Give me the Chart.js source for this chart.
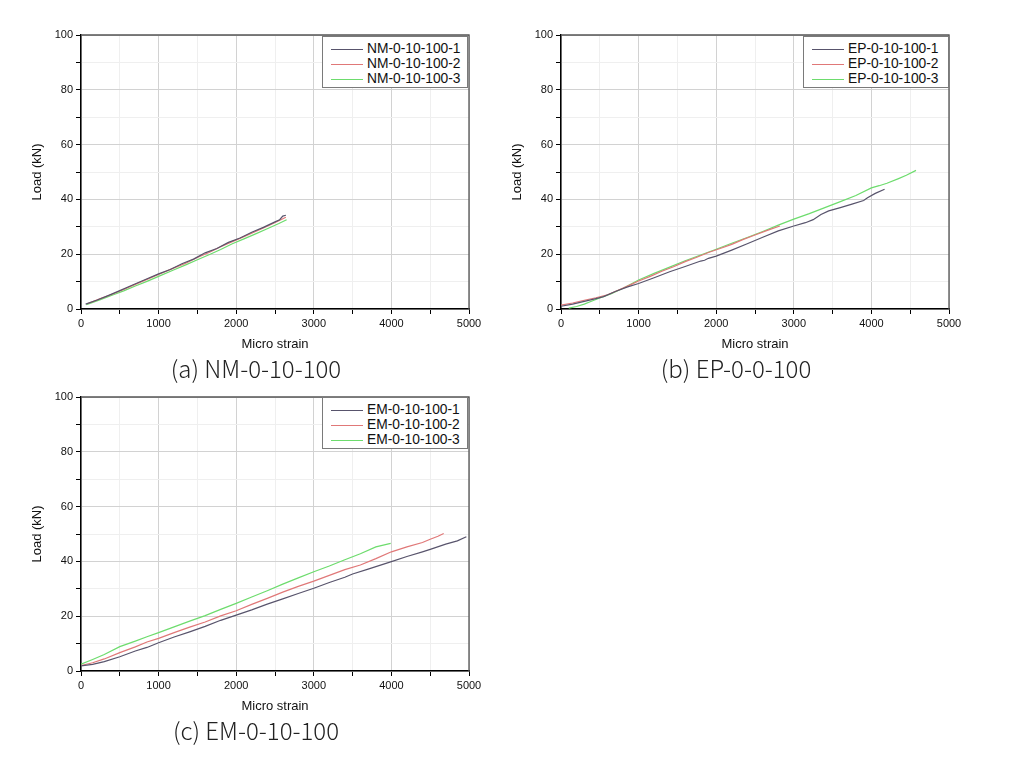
<!DOCTYPE html>
<html>
<head>
<meta charset="utf-8">
<script src="https://cdn.jsdelivr.net/npm/chart.js@4/dist/chart.umd.min.js"></script>
<style>
body{margin:0;background:#fff;width:1009px;height:764px;position:relative;overflow:hidden;font-family:"Liberation Sans",Arial,sans-serif}
canvas{position:absolute}
.cap{position:absolute;font-family:"Noto Sans CJK KR","Noto Sans",sans-serif;font-size:24px;font-weight:300;color:#222;transform:translateX(-50%);white-space:nowrap;line-height:24px}
.leg{position:absolute;box-sizing:border-box;border:1.5px solid #7a7a7a;background:#fff;width:146px;height:52px;padding-top:4px}
.row{height:15px;line-height:15px;font-size:13.8px;color:#111;white-space:nowrap}
.row span{display:inline-block;width:32px;height:0;border-top:1.2px solid;vertical-align:middle;margin:0 4px 0 8px}
</style>
</head>
<body>
<canvas id="ca" width="490" height="352" style="left:0;top:0"></canvas>
<canvas id="cb" width="490" height="352" style="left:480px;top:0"></canvas>
<canvas id="cc" width="490" height="352" style="left:0;top:362px"></canvas>
<div class="cap" style="left:256px;top:356px">(a) NM-0-10-100</div>
<div class="cap" style="left:736px;top:356px">(b) EP-0-0-100</div>
<div class="cap" style="left:256px;top:718px">(c) EM-0-10-100</div>
<div class="leg" id="la" style="left:322px;top:36px"></div>
<div class="leg" id="lb" style="left:803px;top:36px"></div>
<div class="leg" id="lc" style="left:322px;top:397px"></div>
<script>
// NM-0-10-100
var nmStrain1 = [60,200,350,500,650,800,1000,1150,1300,1450,1600,1750,1900,2050,2200,2350,2500,2560,2600,2640];
var nmLoad1   = [1.8,3.2,4.9,6.7,8.6,10.4,12.8,14.4,16.5,18.2,20.5,22.1,24.3,25.9,28.0,29.8,31.8,32.6,33.9,34.2];
var nmStrain2 = [80,250,400,550,700,850,1000,1200,1350,1500,1650,1800,1950,2100,2250,2400,2550,2640];
var nmLoad2   = [1.9,3.8,5.4,7.1,9.0,10.8,12.6,15.0,16.7,18.8,20.6,22.7,24.6,26.4,28.3,30.2,32.2,33.5];
var nmStrain3 = [70,250,400,550,700,850,1000,1200,1350,1500,1650,1800,1950,2100,2250,2400,2550,2650];
var nmLoad3   = [1.6,3.4,5.0,6.6,8.4,10.1,11.9,14.3,16.1,18.0,19.8,21.7,23.8,25.6,27.4,29.3,31.2,32.6];

// EP-0-0-100
var epStrain1 = [0,150,300,450,550,700,850,1000,1200,1400,1600,1800,1850,1900,2000,2200,2400,2600,2800,3000,3150,3250,3350,3450,3600,3750,3900,3950,4050,4170];
var epLoad1   = [1.0,1.8,2.8,3.8,4.5,6.4,8.0,9.3,11.4,13.6,15.5,17.5,17.8,18.5,19.3,21.5,23.8,26.2,28.5,30.3,31.5,32.6,34.5,35.8,37.0,38.3,39.6,40.6,42.2,43.7];
var epStrain2 = [0,150,300,450,600,750,900,1000,1150,1300,1450,1600,1750,1900,2050,2200,2350,2500,2650,2820];
var epLoad2   = [1.4,2.2,3.2,4.1,5.2,7.0,8.9,10.2,11.9,13.8,15.4,17.3,18.9,20.6,22.1,23.6,25.4,27.0,28.6,30.3];
var epStrain3 = [100,200,300,400,500,650,800,1000,1200,1400,1600,1800,2000,2200,2400,2600,2800,3000,3200,3400,3600,3800,4000,4100,4200,4350,4450,4575];
var epLoad3   = [0.3,0.9,1.8,2.9,4.0,5.6,7.6,10.6,13.0,15.3,17.6,19.7,21.8,24.0,26.1,28.3,30.6,32.8,34.8,37.0,39.2,41.4,44.2,45.0,45.9,47.6,48.8,50.6];

// EM-0-10-100
var emStrain1 = [0,150,300,500,700,850,1000,1200,1400,1600,1800,2000,2200,2400,2600,2800,3000,3200,3400,3500,3700,3900,4000,4200,4400,4500,4700,4850,4966];
var emLoad1   = [1.9,2.4,3.4,5.2,7.3,8.6,10.3,12.4,14.3,16.3,18.5,20.4,22.3,24.4,26.3,28.3,30.2,32.3,34.2,35.4,37.2,39.0,39.9,41.8,43.5,44.4,46.3,47.5,49.0];
var emStrain2 = [0,150,300,500,700,850,1000,1200,1400,1600,1800,2000,2200,2400,2600,2800,3000,3200,3400,3600,3800,4000,4200,4400,4500,4600,4674];
var emLoad2   = [2.0,3.0,4.4,6.7,8.8,10.6,11.9,14.0,16.0,17.9,20.1,22.0,24.3,26.5,28.8,30.9,32.8,34.9,37.0,38.7,41.0,43.5,45.3,46.9,48.1,49.2,50.2];
var emStrain3 = [0,150,300,500,700,850,1000,1200,1400,1600,1800,2000,2200,2400,2600,2800,3000,3200,3400,3600,3800,3991];
var emLoad3   = [2.5,4.2,6.0,8.9,10.9,12.5,14.0,16.1,18.2,20.2,22.5,24.7,27.0,29.3,31.7,34.0,36.2,38.3,40.6,42.8,45.3,46.6];

var colors = ['#58546c','#e07878','#6ddc6d'];

function pts(xs, ys){
  var arr = [];
  for (var i = 0; i < xs.length; i++) arr.push({x: xs[i], y: ys[i]});
  return arr;
}

var frame = {
  id: 'frame',
  afterDraw: function(chart){
    var c = chart.ctx, a = chart.chartArea;
    c.save();
    c.strokeStyle = '#555';
    c.lineWidth = 1.3;
    c.beginPath();
    c.moveTo(a.left, a.top);
    c.lineTo(a.right, a.top);
    c.lineTo(a.right, a.bottom);
    c.stroke();
    c.restore();
  }
};

function makeChart(id, legId, names, series){
  var datasets = [];
  for (var i = 0; i < 3; i++) {
    datasets.push({
      label: names[i],
      data: pts(series[i][0], series[i][1]),
      borderColor: colors[i],
      borderWidth: 1.2,
      pointRadius: 0,
      tension: 0,
      fill: false
    });
  }
  var leg = document.getElementById(legId);
  datasets.forEach(function(d){
    var r = document.createElement('div');
    r.className = 'row';
    r.innerHTML = '<span style="border-color:' + d.borderColor + '"></span>' + d.label;
    leg.appendChild(r);
  });
  return new Chart(document.getElementById(id), {
    type: 'line',
    data: {datasets: datasets},
    plugins: [frame],
    options: {
      responsive: false,
      animation: false,
      devicePixelRatio: 1,
      layout: {padding: {top: 35, right: 21, left: 0, bottom: 0}},
      plugins: {legend: {display: false}, tooltip: {enabled: false}},
      scales: {
        x: {
          type: 'linear', min: 0, max: 5000,
          afterFit: function(s){ s.height = 43; },
          border: {color: '#000', width: 1.5},
          grid: {
            color: function(c){ return c.tick && c.tick.value % 1000 === 0 ? '#d2d2d2' : '#efefef'; },
            tickColor: '#000', tickLength: 5
          },
          ticks: {
            stepSize: 500, autoSkip: false, maxRotation: 0, padding: 3,
            color: '#111', font: {family: 'Liberation Sans', size: 11},
            callback: function(v){ return v % 1000 === 0 ? v : ''; }
          },
          title: {display: true, text: 'Micro strain', color: '#111',
            font: {family: 'Liberation Sans', size: 13}, padding: {top: 0, bottom: 0}}
        },
        y: {
          min: 0, max: 100,
          afterFit: function(s){ s.width = 81; },
          border: {color: '#000', width: 1.5},
          grid: {
            color: function(c){ return c.tick && c.tick.value % 20 === 0 ? '#d2d2d2' : '#efefef'; },
            tickColor: '#000', tickLength: 5
          },
          ticks: {
            stepSize: 10, autoSkip: false, padding: 3,
            color: '#111', font: {family: 'Liberation Sans', size: 11},
            callback: function(v){ return v % 20 === 0 ? v : ''; }
          },
          title: {display: true, text: 'Load (kN)', color: '#111',
            font: {family: 'Liberation Sans', size: 13}, padding: {top: 30, bottom: 0}}
        }
      }
    }
  });
}

makeChart('ca', 'la', ['NM-0-10-100-1','NM-0-10-100-2','NM-0-10-100-3'],
  [[nmStrain1, nmLoad1], [nmStrain2, nmLoad2], [nmStrain3, nmLoad3]]);
makeChart('cb', 'lb', ['EP-0-10-100-1','EP-0-10-100-2','EP-0-10-100-3'],
  [[epStrain1, epLoad1], [epStrain2, epLoad2], [epStrain3, epLoad3]]);
makeChart('cc', 'lc', ['EM-0-10-100-1','EM-0-10-100-2','EM-0-10-100-3'],
  [[emStrain1, emLoad1], [emStrain2, emLoad2], [emStrain3, emLoad3]]);
</script>
</body>
</html>
